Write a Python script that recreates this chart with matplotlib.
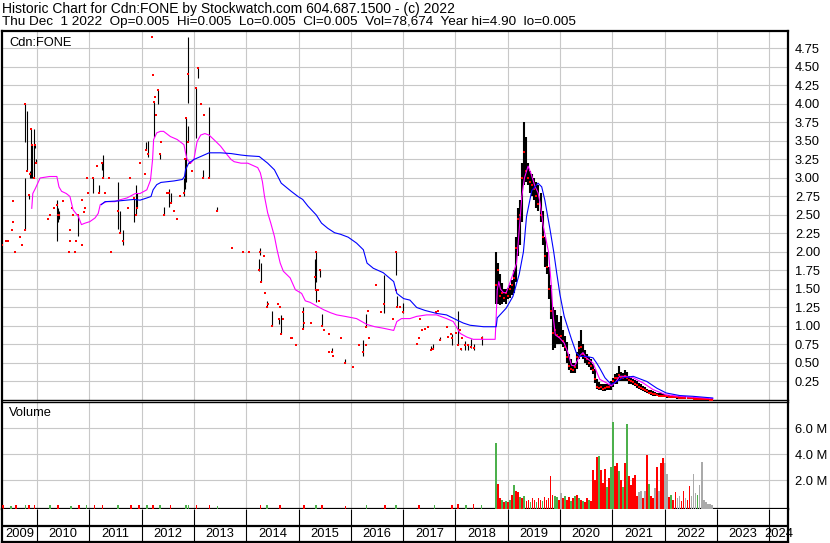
import numpy as np
import matplotlib.pyplot as plt

plt.rcParams['font.family'] = ['Liberation Sans', 'DejaVu Sans']

# ---------------- data ----------------
# thinly traded years: decimal year, high, low, close (a dot when high == low)
early_t = [2009.33, 2009.40, 2009.44, 2009.52, 2009.54, 2009.55, 2009.57, 2009.68, 2009.72, 2009.77,
           2009.78, 2009.81, 2009.84, 2009.86, 2009.88, 2009.91, 2009.95, 2009.97, 2009.99,
           2010.22, 2010.25, 2010.32, 2010.38, 2010.40, 2010.43, 2010.49, 2010.61, 2010.63, 2010.64,
           2010.66, 2010.68, 2010.72, 2010.75, 2010.79, 2010.86, 2010.87, 2010.90, 2010.92, 2010.96, 2010.98,
           2011.08, 2011.15, 2011.19, 2011.24, 2011.27, 2011.30, 2011.38, 2011.42, 2011.54, 2011.59,
           2011.64, 2011.74, 2011.78, 2011.85, 2011.90, 2011.92, 2011.97,
           2012.06, 2012.08, 2012.13, 2012.20, 2012.21, 2012.23, 2012.25, 2012.27, 2012.32, 2012.35,
           2012.38, 2012.42, 2012.48, 2012.53, 2012.56, 2012.62, 2012.68, 2012.73, 2012.81, 2012.83,
           2012.85, 2012.88, 2012.89, 2012.93, 2012.97,
           2013.04, 2013.08, 2013.13, 2013.18, 2013.19, 2013.29, 2013.45, 2013.73, 2013.94,
           2014.05, 2014.24, 2014.27, 2014.29, 2014.34, 2014.36, 2014.39, 2014.42, 2014.50, 2014.60,
           2014.62, 2014.65, 2014.66, 2014.70, 2014.85, 2014.87, 2014.95,
           2015.08, 2015.09, 2015.11, 2015.24, 2015.31, 2015.33, 2015.34, 2015.38, 2015.39, 2015.41,
           2015.45, 2015.48, 2015.58, 2015.59, 2015.65, 2015.66, 2015.81, 2015.89,
           2016.04, 2016.16, 2016.24, 2016.29, 2016.30, 2016.33, 2016.34, 2016.48, 2016.58, 2016.64,
           2016.80, 2016.86, 2016.87, 2016.88, 2016.95, 2016.99,
           2017.26, 2017.30, 2017.33, 2017.36, 2017.41, 2017.48, 2017.54, 2017.57, 2017.63, 2017.66,
           2017.71, 2017.84, 2017.86, 2017.92, 2017.94,
           2018.02, 2018.04, 2018.06, 2018.09, 2018.10, 2018.13, 2018.19, 2018.24, 2018.30, 2018.35, 2018.50]
early_hi = [2.10, 2.15, 2.15, 2.30, 2.69, 2.40, 2.00, 2.20, 2.10, 3.00,
            4.00, 3.91, 2.77, 3.10, 3.66, 3.45, 3.66, 3.45, 3.25,
            2.45, 2.50, 2.60, 2.70, 2.60, 2.55, 2.69, 2.00, 2.30, 2.15,
            2.59, 2.50, 2.00, 2.15, 2.50, 2.10, 2.70, 2.54, 2.60, 3.00, 2.80,
            3.00, 3.16, 2.90, 3.20, 3.31, 2.80, 3.00, 2.00, 2.95, 2.55,
            2.30, 2.60, 3.00, 2.73, 2.90, 2.80, 3.20,
            3.05, 3.49, 3.50, 4.90, 4.39, 4.03, 4.10, 3.85, 4.19, 3.33,
            3.49, 2.61, 2.80, 2.85, 2.80, 2.55, 2.45, 2.75, 3.00, 3.25,
            3.81, 4.91, 3.70, 3.20, 3.10,
            4.21, 4.49, 4.00, 3.11, 3.85, 3.96, 2.61, 2.05, 2.00,
            2.00, 1.90, 2.05, 1.85, 1.95, 1.45, 1.34, 1.30, 1.20, 1.30,
            1.10, 1.25, 1.15, 1.09, 0.84, 0.84, 0.74,
            1.26, 1.19, 1.04, 1.04, 1.91, 2.00, 1.49, 1.49, 1.34, 1.76,
            1.16, 0.94, 0.65, 0.89, 0.70, 0.59, 0.84, 0.55,
            0.45, 0.74, 0.81, 0.74, 1.16, 1.20, 0.84, 1.55, 1.19, 1.69,
            1.09, 2.00, 1.49, 1.40, 1.25, 1.31,
            0.75, 0.84, 1.09, 0.94, 0.96, 0.99, 0.73, 0.75, 1.19, 1.20,
            0.85, 0.99, 0.85, 0.89, 0.89,
            0.90, 1.20, 0.94, 0.94, 0.69, 0.84, 0.80, 0.76, 0.82, 0.76, 0.86]
early_lo = [2.10, 2.15, 2.15, 2.30, 2.69, 2.40, 2.00, 2.20, 2.10, 2.30,
            3.49, 3.09, 2.72, 3.00, 3.00, 3.00, 3.00, 3.40, 3.20,
            2.45, 2.50, 2.60, 2.15, 2.40, 2.45, 2.69, 2.00, 2.30, 2.15,
            2.59, 2.50, 2.00, 2.15, 2.21, 2.10, 2.70, 2.54, 2.60, 3.00, 2.80,
            2.80, 3.16, 2.80, 3.11, 3.00, 2.80, 3.00, 2.00, 2.31, 2.25,
            2.10, 2.60, 3.00, 2.40, 2.50, 2.60, 3.20,
            3.05, 3.38, 3.29, 4.90, 4.39, 3.56, 4.10, 3.85, 4.00, 3.25,
            3.49, 2.50, 2.80, 2.61, 2.66, 2.55, 2.45, 2.75, 2.75, 2.85,
            2.95, 4.01, 3.49, 3.20, 3.10,
            3.54, 4.35, 4.00, 3.00, 3.85, 3.00, 2.55, 2.05, 2.00,
            2.00, 1.74, 1.96, 1.59, 1.95, 1.45, 1.25, 1.30, 1.00, 1.30,
            1.03, 1.25, 0.89, 1.09, 0.84, 0.84, 0.74,
            0.96, 1.19, 1.04, 1.04, 1.49, 1.60, 1.33, 1.49, 1.34, 1.66,
            1.00, 0.94, 0.65, 0.89, 0.65, 0.59, 0.84, 0.50,
            0.45, 0.74, 0.60, 0.74, 0.99, 1.20, 0.84, 1.55, 1.19, 1.17,
            1.09, 1.69, 1.49, 1.25, 1.25, 1.17,
            0.75, 0.84, 1.09, 0.94, 0.96, 0.99, 0.68, 0.69, 1.19, 1.20,
            0.81, 0.99, 0.85, 0.89, 0.74,
            0.90, 0.74, 0.94, 0.94, 0.67, 0.84, 0.68, 0.68, 0.70, 0.68, 0.74]
early_cl = [2.10, 2.15, 2.15, 2.30, 2.69, 2.40, 2.00, 2.20, 2.10, 2.30,
            4.00, 3.09, 2.77, 3.05, 3.66, 3.45, 3.00, 3.45, 3.20,
            2.45, 2.50, 2.60, 2.64, 2.50, 2.50, 2.69, 2.00, 2.30, 2.15,
            2.59, 2.50, 2.00, 2.15, 2.50, 2.10, 2.70, 2.54, 2.60, 3.00, 2.80,
            3.00, 3.16, 2.80, 3.20, 3.00, 2.80, 3.00, 2.00, 2.55, 2.25,
            2.15, 2.60, 3.00, 2.73, 2.50, 2.60, 3.20,
            3.05, 3.38, 3.32, 4.90, 4.39, 4.03, 4.10, 3.85, 4.19, 3.33,
            3.49, 2.50, 2.80, 2.80, 2.66, 2.55, 2.45, 2.75, 2.80, 3.25,
            3.81, 4.40, 3.49, 3.20, 3.10,
            4.21, 4.49, 4.00, 3.00, 3.85, 3.00, 2.55, 2.05, 2.00,
            2.00, 1.75, 2.00, 1.60, 1.95, 1.45, 1.25, 1.30, 1.00, 1.30,
            1.10, 1.25, 0.89, 1.09, 0.84, 0.84, 0.74,
            0.96, 1.19, 1.04, 1.04, 1.66, 2.00, 1.49, 1.49, 1.34, 1.76,
            1.00, 0.94, 0.65, 0.89, 0.65, 0.59, 0.84, 0.50,
            0.45, 0.74, 0.65, 0.74, 0.99, 1.20, 0.84, 1.55, 1.19, 1.30,
            1.09, 2.00, 1.49, 1.25, 1.25, 1.19,
            0.75, 0.84, 1.09, 0.94, 0.96, 0.99, 0.68, 0.69, 1.19, 1.20,
            0.81, 0.99, 0.85, 0.89, 0.84,
            0.90, 0.74, 0.94, 0.94, 0.69, 0.84, 0.74, 0.74, 0.72, 0.70, 0.84]

# busy period: two-week bars from Oct 2018 to Dec 2022
dense_start = 2018.78
dense_step = 0.0385
dense_hi = [2.00, 1.85, 1.70, 1.58, 1.50, 1.50, 1.52, 1.55, 1.62, 1.76,
            2.20, 2.60, 2.70, 3.20, 3.75, 3.55, 3.20, 3.10, 3.05, 3.00,
            2.95, 2.90, 2.80, 2.55, 2.20, 2.00, 1.80, 1.55, 1.25, 1.22,
            1.15, 1.05, 1.13, 0.95, 0.86, 0.78, 0.62, 0.55, 0.50, 0.50,
            0.65, 0.80, 0.95, 0.75, 0.68, 0.62, 0.58, 0.55, 0.48, 0.42,
            0.28, 0.24, 0.22, 0.21, 0.21, 0.21, 0.22, 0.25, 0.30, 0.35,
            0.36, 0.46, 0.38, 0.36, 0.40, 0.38, 0.33, 0.30, 0.28, 0.27,
            0.25, 0.23, 0.21, 0.19, 0.17, 0.15, 0.14, 0.13, 0.12, 0.11,
            0.10, 0.09, 0.09, 0.08, 0.08, 0.07, 0.07, 0.06, 0.06, 0.06,
            0.05, 0.05, 0.05, 0.05, 0.05, 0.04, 0.04, 0.04, 0.04, 0.04,
            0.03, 0.03, 0.03, 0.03, 0.03, 0.02, 0.02, 0.02]
dense_lo = [1.30, 1.30, 1.28, 1.30, 1.33, 1.30, 1.36, 1.38, 1.42, 1.45,
            1.60, 1.95, 2.10, 2.40, 2.90, 2.95, 2.90, 2.80, 2.75, 2.70,
            2.60, 2.55, 2.40, 2.10, 1.80, 1.70, 1.36, 1.10, 0.68, 0.70,
            0.75, 0.75, 0.75, 0.72, 0.66, 0.50, 0.40, 0.36, 0.36, 0.36,
            0.42, 0.55, 0.60, 0.55, 0.50, 0.47, 0.45, 0.41, 0.35, 0.23,
            0.15, 0.13, 0.13, 0.12, 0.12, 0.13, 0.13, 0.14, 0.17, 0.22,
            0.22, 0.25, 0.26, 0.25, 0.26, 0.25, 0.22, 0.21, 0.20, 0.19,
            0.16, 0.15, 0.13, 0.12, 0.11, 0.10, 0.08, 0.07, 0.06, 0.06,
            0.05, 0.05, 0.04, 0.04, 0.04, 0.03, 0.03, 0.03, 0.03, 0.03,
            0.02, 0.02, 0.02, 0.02, 0.02, 0.02, 0.02, 0.02, 0.01, 0.01,
            0.01, 0.01, 0.01, 0.01, 0.01, 0.005, 0.005, 0.005]
dense_cl = [1.55, 1.75, 1.40, 1.45, 1.38, 1.45, 1.40, 1.50, 1.55, 1.65,
            2.05, 2.45, 2.50, 3.00, 3.35, 3.10, 3.00, 2.95, 2.90, 2.85,
            2.75, 2.65, 2.50, 2.20, 1.95, 1.80, 1.50, 1.20, 0.90, 0.95,
            0.88, 0.85, 0.86, 0.80, 0.72, 0.58, 0.46, 0.42, 0.40, 0.44,
            0.58, 0.70, 0.72, 0.62, 0.58, 0.55, 0.50, 0.46, 0.40, 0.28,
            0.18, 0.16, 0.17, 0.15, 0.16, 0.17, 0.17, 0.20, 0.25, 0.30,
            0.30, 0.34, 0.30, 0.30, 0.32, 0.30, 0.27, 0.26, 0.24, 0.22,
            0.20, 0.18, 0.16, 0.15, 0.13, 0.12, 0.10, 0.09, 0.08, 0.08,
            0.07, 0.06, 0.06, 0.05, 0.05, 0.05, 0.045, 0.04, 0.04, 0.04,
            0.035, 0.03, 0.03, 0.03, 0.03, 0.03, 0.03, 0.025, 0.02, 0.02,
            0.02, 0.02, 0.02, 0.015, 0.01, 0.01, 0.005, 0.005]
# volume in millions, with direction of the bar: g up, r down, n unchanged
dense_vol = [4.9, 1.7, 0.6, 0.5, 0.3, 0.4, 0.3, 0.5, 0.9, 1.6,
             1.2, 1.1, 0.7, 0.6, 0.8, 0.4, 0.5, 0.3, 0.6, 0.5,
             0.3, 0.6, 0.5, 0.4, 0.7, 0.5, 0.6, 2.3, 0.9, 0.8,
             0.7, 0.5, 1.05, 0.6, 0.8, 0.5, 0.7, 0.4, 0.6, 0.8,
             0.9, 0.6, 0.5, 0.4, 0.3, 0.6, 0.5, 0.4, 2.8, 2.0,
             3.8, 3.9, 2.8, 1.8, 2.9, 1.5, 2.2, 3.0, 6.5, 3.1,
             3.3, 2.7, 2.0, 1.5, 3.3, 6.3, 2.3, 1.6, 2.2, 2.4,
             0.8, 1.1, 1.2, 0.6, 1.2, 3.95, 1.7, 0.8, 0.6, 1.4,
             3.05, 1.2, 3.3, 3.75, 3.3, 2.5, 0.7, 0.9, 0.5, 1.1,
             0.6, 0.8, 0.4, 1.2, 0.6, 0.5, 1.55, 0.8, 2.5, 1.0,
             0.9, 1.6, 3.4, 0.5, 0.3, 0.2, 0.15, 0.1]
dense_dir = ("grrgrgrgrg" "rrgrgrrgrr" "grrgrrrrrg" "grnrgrrgrg"
             "rgrgrrgrrr" "rgrrrgrggr" "rgrgrgrrrr" "rnnrnrgrrn"
             "rnrrnnrgrr" "nnrrnrrnnn" "gnnnnnnn")

# small volumes of the quiet years
early_vol_t = [2009.35, 2009.50, 2009.60, 2009.78, 2009.85, 2009.95, 2010.25, 2010.40, 2010.65, 2010.80,
               2010.95, 2011.10, 2011.25, 2011.55, 2011.80, 2011.95, 2012.10, 2012.22, 2012.35, 2012.55,
               2012.85, 2012.90, 2013.05, 2013.30, 2013.45, 2014.27, 2014.40, 2014.65, 2015.10, 2015.33,
               2015.45, 2015.90, 2016.30, 2016.65, 2016.86, 2017.30, 2017.60, 2017.94, 2018.05, 2018.20,
               2018.35, 2018.50]
early_vol = [0.08, 0.05, 0.06, 0.12, 0.09, 0.07, 0.06, 0.10, 0.05, 0.08,
             0.07, 0.09, 0.06, 0.10, 0.07, 0.06, 0.08, 0.12, 0.10, 0.06,
             0.12, 0.10, 0.09, 0.07, 0.05, 0.08, 0.06, 0.07, 0.06, 0.10,
             0.07, 0.05, 0.08, 0.09, 0.10, 0.08, 0.12, 0.10, 0.14, 0.12,
             0.15, 0.10]
early_dir = "rgrgrrgrgrgrrgrrgrgrggrrgrgrrgrrgrgrgrrgrg"

# moving averages (magenta = short, blue = long)
ma_short_t = [2009.90, 2009.92, 2009.97, 2010.06, 2010.24, 2010.38, 2010.42, 2010.47, 2010.56, 2010.63,
              2010.69, 2010.79, 2010.85, 2010.92, 2011.01, 2011.11, 2011.17, 2011.21, 2011.33, 2011.49,
              2011.56, 2011.72, 2011.88, 2011.97, 2012.10, 2012.17, 2012.21, 2012.23, 2012.29, 2012.36,
              2012.42, 2012.55, 2012.68, 2012.81, 2012.84, 2012.87, 2012.94, 2013.00, 2013.06, 2013.13,
              2013.21, 2013.29, 2013.38, 2013.51, 2013.64, 2013.71, 2013.77, 2013.90, 2014.03, 2014.22,
              2014.27, 2014.31, 2014.35, 2014.41, 2014.47, 2014.54, 2014.59, 2014.65, 2014.71, 2014.84,
              2014.94, 2015.06, 2015.13, 2015.22, 2015.35, 2015.48, 2015.61, 2015.73, 2015.89, 2016.11,
              2016.31, 2016.46, 2016.62, 2016.82, 2016.88, 2016.97, 2017.13, 2017.26, 2017.45, 2017.64,
              2017.83, 2017.96, 2018.09, 2018.22, 2018.34, 2018.76, 2018.78, 2018.80, 2018.83, 2018.86,
              2018.92, 2018.97, 2019.02, 2019.10, 2019.17, 2019.22, 2019.27, 2019.32, 2019.39, 2019.45,
              2019.52, 2019.58, 2019.62, 2019.68, 2019.78, 2019.83, 2019.87, 2019.91, 2019.99, 2020.08,
              2020.15, 2020.22, 2020.28, 2020.38, 2020.44, 2020.50, 2020.63, 2020.76, 2020.89, 2020.98,
              2021.07, 2021.14, 2021.27, 2021.40, 2021.59, 2021.78, 2022.03, 2022.28, 2022.92]
ma_short = [2.59, 2.79, 2.86, 3.00, 3.02, 3.02, 2.88, 2.82, 2.79, 2.75,
            2.57, 2.48, 2.37, 2.39, 2.41, 2.46, 2.52, 2.64, 2.68, 2.68,
            2.70, 2.73, 2.79, 2.79, 2.84, 2.97, 3.25, 3.52, 3.61, 3.63,
            3.63, 3.56, 3.52, 3.45, 3.34, 3.25, 3.20, 3.25, 3.49, 3.58,
            3.60, 3.58, 3.52, 3.43, 3.31, 3.25, 3.22, 3.20, 3.20, 3.14,
            3.07, 2.95, 2.75, 2.53, 2.39, 2.21, 2.03, 1.85, 1.74, 1.65,
            1.49, 1.44, 1.34, 1.32, 1.27, 1.22, 1.18, 1.15, 1.13, 1.10,
            1.02, 0.99, 0.97, 0.94, 1.06, 1.10, 1.10, 1.13, 1.15, 1.15,
            1.10, 1.06, 0.90, 0.85, 0.82, 0.82, 1.13, 1.49, 1.60, 1.50,
            1.45, 1.45, 1.54, 1.70, 1.85, 2.30, 2.75, 3.00, 3.16, 3.05,
            2.89, 2.80, 2.66, 2.35, 2.00, 1.58, 1.13, 0.88, 0.84, 0.77,
            0.64, 0.47, 0.46, 0.60, 0.64, 0.57, 0.50, 0.28, 0.23, 0.19,
            0.25, 0.32, 0.32, 0.30, 0.23, 0.14, 0.07, 0.05, 0.02]
ma_long_t = [2011.23, 2011.30, 2011.56, 2011.85, 2011.97, 2012.10, 2012.18, 2012.22, 2012.29, 2012.37,
             2012.62, 2012.78, 2012.82, 2012.84, 2012.90, 2013.00, 2013.13, 2013.29, 2013.51, 2013.71,
             2013.90, 2014.03, 2014.25, 2014.41, 2014.54, 2014.67, 2014.86, 2014.99, 2015.08, 2015.18,
             2015.34, 2015.44, 2015.56, 2015.69, 2015.80, 2015.95, 2016.11, 2016.24, 2016.31, 2016.43,
             2016.62, 2016.82, 2016.88, 2017.01, 2017.13, 2017.26, 2017.42, 2017.64, 2017.83, 2018.03,
             2018.15, 2018.28, 2018.54, 2018.78, 2018.80, 2018.97, 2019.10, 2019.22, 2019.30, 2019.36,
             2019.46, 2019.58, 2019.65, 2019.71, 2019.81, 2019.88, 2019.94, 2020.00, 2020.08, 2020.22,
             2020.31, 2020.38, 2020.50, 2020.63, 2020.70, 2020.76, 2020.86, 2020.98, 2021.08, 2021.20,
             2021.40, 2021.66, 2021.85, 2022.03, 2022.29, 2022.54, 2022.92]
ma_long = [2.64, 2.68, 2.69, 2.71, 2.70, 2.73, 2.75, 2.84, 2.91, 2.94,
           2.96, 2.98, 3.02, 3.11, 3.20, 3.25, 3.29, 3.34, 3.34, 3.33,
           3.31, 3.30, 3.29, 3.20, 3.11, 2.93, 2.82, 2.75, 2.71, 2.62,
           2.50, 2.39, 2.32, 2.26, 2.24, 2.20, 2.12, 2.03, 1.85, 1.78,
           1.72, 1.60, 1.44, 1.37, 1.35, 1.25, 1.21, 1.17, 1.15, 1.08,
           1.04, 1.01, 0.99, 0.99, 1.11, 1.24, 1.40, 1.70, 2.00, 2.48,
           2.83, 2.93, 2.88, 2.70, 2.30, 2.00, 1.70, 1.42, 1.13, 0.82,
           0.64, 0.59, 0.59, 0.57, 0.50, 0.43, 0.30, 0.21, 0.25, 0.30,
           0.32, 0.25, 0.16, 0.095, 0.06, 0.05, 0.027]

price_ticks = [0.25, 0.50, 0.75, 1.00, 1.25, 1.50, 1.75, 2.00, 2.25, 2.50,
               2.75, 3.00, 3.25, 3.50, 3.75, 4.00, 4.25, 4.50, 4.75]
vol_ticks = [2, 4, 6]
vol_labels = ['2.0 M', '4.0 M', '6.0 M']
years = list(range(2009, 2025))

title1 = "Historic Chart for Cdn:FONE by Stockwatch.com 604.687.1500 - (c) 2022"
title2 = ("Thu Dec  1 2022  Op=0.005  Hi=0.005  Lo=0.005  Cl=0.005  "
          "Vol=78,674  Year hi=4.90  lo=0.005")

# ---------------- drawing ----------------
W, H = 830, 543
fig = plt.figure(figsize=(W / 100, H / 100), dpi=100)
fig.patch.set_facecolor('white')


def rect(l, t, r, b):
    return [l / W, 1 - b / H, (r - l) / W, (b - t) / H]


x0, x1 = 2009.331, 2024.359
grid_c = '#c8c8c8'
thick = 1.6
fs = 9.3

ax = fig.add_axes(rect(2, 31, 788, 400))
axv = fig.add_axes(rect(2, 402, 788, 509))
axd = fig.add_axes(rect(2, 509, 788, 542))

dense_t = dense_start + dense_step * np.arange(len(dense_hi))

# price panel
ax.vlines(early_t, early_lo, early_hi, color='black', lw=0.8, zorder=3)
ax.plot(early_t, early_cl, 's', color='red', ms=1.8, mew=0, zorder=4)
ax.vlines(dense_t, dense_lo, dense_hi, color='black', lw=1.5, zorder=3)
ax.plot(dense_t, dense_cl, 's', color='red', ms=1.5, mew=0, zorder=4)
ax.plot(ma_short_t, ma_short, color='#ff00ff', lw=0.8, zorder=5)
ax.plot(ma_long_t, ma_long, color='#0000ff', lw=0.8, zorder=5)

ax.set_xlim(x0, x1)
ax.set_ylim(0, 4.986)
ax.set_xticks(years[1:])
ax.set_yticks(price_ticks)
ax.set_yticklabels(['%.2f' % v for v in price_ticks])
ax.yaxis.tick_right()
ax.tick_params(axis='y', length=0, pad=5, labelsize=fs)
ax.tick_params(axis='x', length=0, labelbottom=False)
ax.grid(True, color=grid_c, lw=0.8, zorder=0)
ax.set_axisbelow(True)
ax.text(0.009, 0.967, 'Cdn:FONE', transform=ax.transAxes, fontsize=fs, va='center')

# volume panel
vcol = {'g': '#4cb04c', 'r': '#ff0000', 'n': '#aaaaaa'}
vb = -0.21
axv.bar(early_vol_t, np.array(early_vol) - vb, bottom=vb, width=0.03,
        color=[vcol[c] for c in early_dir[:len(early_vol)]], zorder=3)
axv.bar(dense_t, np.array(dense_vol) - vb, bottom=vb, width=dense_step * 0.9,
        color=[vcol[c] for c in dense_dir], zorder=3)
axv.set_xlim(x0, x1)
axv.set_ylim(vb, 8.02)
axv.set_xticks(years[1:])
axv.set_yticks(vol_ticks)
axv.set_yticklabels(vol_labels)
axv.yaxis.tick_right()
axv.tick_params(axis='y', length=0, pad=5, labelsize=fs)
axv.tick_params(axis='x', length=0, labelbottom=False)
axv.grid(True, color=grid_c, lw=0.8, zorder=0)
axv.set_axisbelow(True)
axv.text(0.009, 0.9, 'Volume', transform=axv.transAxes, fontsize=fs, va='center')

# date strip
axd.set_xlim(x0, x1)
axd.set_ylim(0, 1)
axd.set_xticks([])
axd.set_yticks([])
axd.axhline(0.485, color='black', lw=thick)
axd.vlines(years[1:], 0, 1, color='black', lw=0.8)
for y in years:
    lo = max(y, x0)
    hi = min(y + 1, x1)
    axd.text((lo + hi) / 2, 0.23, str(y), ha='center', va='center', fontsize=fs)

# frames
for a in (ax, axv, axd):
    for s in a.spines.values():
        s.set_color('black')
        s.set_linewidth(thick)
ax.spines['bottom'].set_linewidth(1.0)
axv.spines['top'].set_linewidth(1.0)
axd.spines['top'].set_visible(False)

fig.text(2 / W, 1 - 8.5 / H, title1, fontsize=10, va='center')
fig.text(2 / W, 1 - 22.5 / H, title2, fontsize=9.7, va='center')

fig.savefig('out.png', dpi=100, facecolor='white')
